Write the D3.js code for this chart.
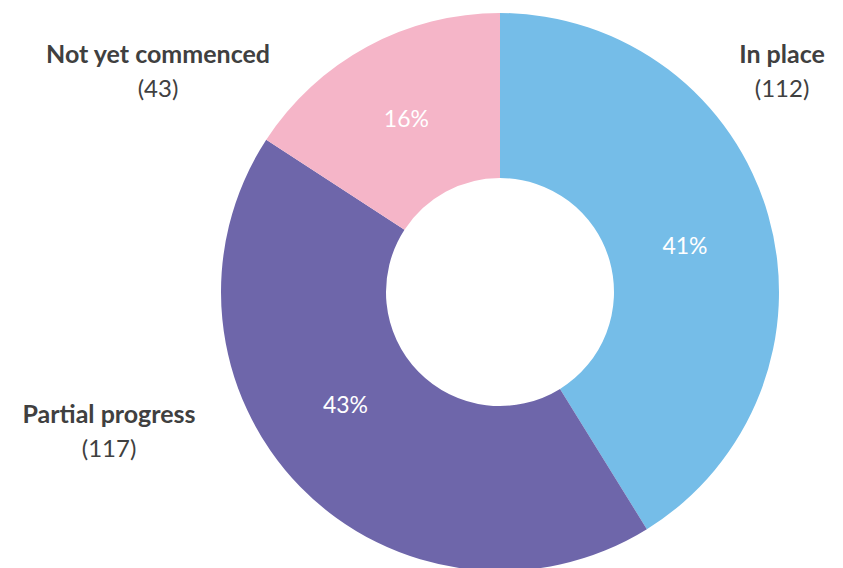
<!DOCTYPE html>
<html>
<head>
<meta charset="utf-8">
<script src="https://cdn.jsdelivr.net/npm/d3@7"></script>
<style>
  body { margin: 0; background: #fff; }
  text { font-family: Lato, "Liberation Sans", sans-serif; }
</style>
</head>
<body>
<script>
const categories = ["In place", "Partial progress", "Not yet commenced"];
const counts = [112, 117, 43];
const colors = ["#75BDE8", "#6E66AA", "#F5B5C8"];
// where the outside category labels sit
const labelPos = [[782, 63], [109, 423], [158, 63]];
// small nudges of the percent labels from the arc centroid
const pctNudge = [[-4, 8], [-14, -24], [0, 0]];

const width = 843;
const height = 568;
const cx = 500;
const cy = 292;
const outerR = 279;
const innerR = 114;

const svg = d3
  .select("body")
  .append("svg")
  .attr("width", width)
  .attr("height", height);

const total = d3.sum(counts);
const pie = d3.pie().sort(null).value((d) => d);
const arc = d3.arc().innerRadius(innerR).outerRadius(outerR);
const arcs = pie(counts);

const g = svg.append("g").attr("transform", `translate(${cx},${cy})`);

g.selectAll("path")
  .data(arcs)
  .enter()
  .append("path")
  .attr("d", arc)
  .attr("fill", (_, i) => colors[i]);

g.selectAll("text.pct")
  .data(arcs)
  .enter()
  .append("text")
  .attr("class", "pct")
  .attr("transform", (d, i) => {
    const c = arc.centroid(d);
    return `translate(${c[0] + pctNudge[i][0]},${c[1] + pctNudge[i][1]})`;
  })
  .attr("text-anchor", "middle")
  .attr("dy", "0.35em")
  .attr("fill", "#fff")
  .attr("font-size", 23)
  .text((d) => Math.round((d.value / total) * 100) + "%");

const lab = svg
  .selectAll("g.lab")
  .data(categories)
  .enter()
  .append("g")
  .attr("class", "lab")
  .attr("transform", (_, i) => `translate(${labelPos[i]})`);

lab.append("text")
  .attr("text-anchor", "middle")
  .attr("font-size", 25)
  .attr("font-weight", "bold")
  .attr("fill", "#404040")
  .text((d) => d);

lab.append("text")
  .attr("text-anchor", "middle")
  .attr("y", 34)
  .attr("font-size", 24)
  .attr("fill", "#404040")
  .text((_, i) => "(" + counts[i] + ")");
</script>
</body>
</html>
